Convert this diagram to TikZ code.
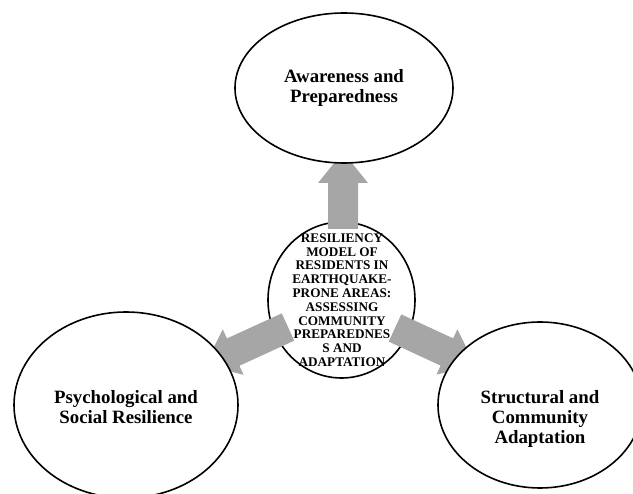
\documentclass[tikz,border=0pt]{standalone}
\usepackage{fontspec}
\setmainfont{Liberation Serif}
\usetikzlibrary{shapes.geometric,calc}
\definecolor{arrowfill}{RGB}{166,166,166}
\newcommand\blockarrow[2]{%
  \path ($(#2)!31pt!(#1)$) coordinate (hb);
  \fill[arrowfill] ($(#1)!15pt!90:(#2)$) -- ($(hb)!15pt!90:(#2)$) -- ($(hb)!25pt!90:(#2)$) -- (#2)
    -- ($(hb)!25pt!-90:(#2)$) -- ($(hb)!15pt!-90:(#2)$) -- ($(#1)!15pt!-90:(#2)$) -- cycle;}
\begin{document}
\begin{tikzpicture}[x=1pt,y=-1pt,
  ell/.style={ellipse,draw=black,line width=1.6pt,fill=white,inner sep=0pt},
  outertxt/.style={align=center,font=\fontsize{18.8}{20}\selectfont\bfseries},
  centertxt/.style={align=center,font=\fontsize{13.2}{13.8}\selectfont\bfseries}]
\useasboundingbox (0,0) rectangle (633,494);
\clip (0,0) rectangle (633,494);
% centre
\node[ell,minimum width=147pt,minimum height=156pt] (c) at (341.5,300) {};
\node[centertxt] (ct) at (342,300) {RESILIENCY\\MODEL OF\\RESIDENTS IN\\EARTHQUAKE-\\PRONE AREAS:\\ASSESSING\\COMMUNITY\\PREPAREDNES\\S AND\\ADAPTATION};
% arrows
\coordinate (bt) at (343,229);
\coordinate (tt) at (343,152);
\coordinate (bl) at (288,327);
\coordinate (tl) at (205,365);
\coordinate (br) at (395,328);
\coordinate (tr) at (475,365);
\blockarrow{bt}{tt}
\blockarrow{bl}{tl}
\blockarrow{br}{tr}
% outer ellipses
\node[ell,minimum width=218pt,minimum height=150pt] (a) at (344,88) {};
\node[outertxt] (at) at (344,88) {Awareness and\\Preparedness};
\node[ell,minimum width=224pt,minimum height=186pt] (p) at (126,405) {};
\node[outertxt] (pt) at (126,407) {Psychological and\\Social Resilience};
\node[ell,minimum width=204pt,minimum height=166pt] (s) at (540,405) {};
\node[outertxt] (st) at (540,419) {Structural and\\Community\\Adaptation};
\end{tikzpicture}
\end{document}
